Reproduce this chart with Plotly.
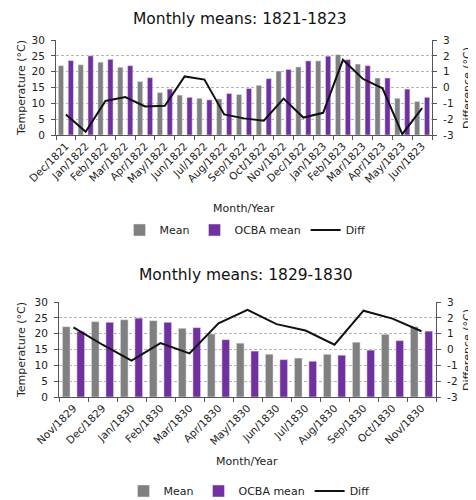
import plotly.graph_objects as go

c1_cats = ["Dec/1821", "Jan/1822", "Feb/1822", "Mar/1822", "Apr/1822", "May/1822", "Jun/1822",
           "Jul/1822", "Aug/1822", "Sep/1822", "Oct/1822", "Nov/1822", "Dec/1822", "Jan/1823",
           "Feb/1823", "Mar/1823", "Apr/1823", "May/1823", "Jun/1823"]
c1_mean = [21.9, 22.2, 23.0, 21.4, 16.9, 13.4, 12.6, 11.6, 11.4, 12.8, 15.7, 20.2, 21.5, 23.4,
           25.4, 22.4, 18.0, 11.6, 10.6]
c1_ocba = [23.5, 25.0, 23.9, 21.9, 18.1, 14.5, 11.9, 11.1, 13.1, 14.7, 17.8, 20.7, 23.4, 24.9,
           23.8, 21.9, 18.0, 14.5, 11.9]
c1_diff = [-1.7, -2.8, -0.85, -0.6, -1.2, -1.15, 0.7, 0.5, -1.7, -1.95, -2.1, -0.7, -1.9, -1.6,
           1.75, 0.55, -0.05, -2.95, -1.3]

c2_cats = ["Nov/1829", "Dec/1829", "Jan/1830", "Feb/1830", "Mar/1830", "Apr/1830", "May/1830",
           "Jun/1830", "Jul/1830", "Aug/1830", "Sep/1830", "Oct/1830", "Nov/1830"]
c2_mean = [22.2, 23.8, 24.4, 24.1, 21.7, 19.9, 17.0, 13.5, 12.3, 13.5, 17.3, 19.8, 22.2]
c2_ocba = [20.7, 23.6, 24.9, 23.6, 21.9, 18.1, 14.5, 11.8, 11.3, 13.2, 14.8, 17.8, 20.8]
c2_diff = [1.4, 0.3, -0.7, 0.4, -0.25, 1.65, 2.5, 1.6, 1.2, 0.3, 2.45, 1.95, 1.15]

titles = ["Monthly means: 1821-1823", "Monthly means: 1829-1830"]
left_ticks = [0, 5, 10, 15, 20, 25, 30]
right_ticks = [-3, -2, -1, 0, 1, 2, 3]
right_ticktext = ["-3", "-2", "-1", "0", "1", "2", "3"]

GRAY = "#808080"
PURPLE = "#7030a0"
FONT = "DejaVu Sans"
OFF = 8  # page body margin
W, H = 476 - OFF, 500 - OFF

fig = go.Figure()

fig.add_trace(go.Bar(x=c1_cats, y=c1_mean, name="Mean", marker_color=GRAY,
                     xaxis="x", yaxis="y", legend="legend", offsetgroup="a"))
fig.add_trace(go.Bar(x=c1_cats, y=c1_ocba, name="OCBA mean", marker_color=PURPLE,
                     xaxis="x", yaxis="y", legend="legend", offsetgroup="b"))
fig.add_trace(go.Scatter(x=c1_cats, y=c1_diff, name="Diff", mode="lines",
                         line=dict(color="#111111", width=2),
                         xaxis="x", yaxis="y2", legend="legend"))

fig.add_trace(go.Bar(x=c2_cats, y=c2_mean, name="Mean", marker_color=GRAY,
                     xaxis="x2", yaxis="y3", legend="legend2", offsetgroup="a"))
fig.add_trace(go.Bar(x=c2_cats, y=c2_ocba, name="OCBA mean", marker_color=PURPLE,
                     xaxis="x2", yaxis="y3", legend="legend2", offsetgroup="b"))
fig.add_trace(go.Scatter(x=c2_cats, y=c2_diff, name="Diff", mode="lines",
                         line=dict(color="#111111", width=2),
                         xaxis="x2", yaxis="y4", legend="legend2"))


def fx(px):
    return (px - OFF) / W


def fy(py):
    return 1 - (py - OFF) / H


def px_x(a, b):
    return [fx(a), fx(b)]


def px_y(top, bottom):
    return [fy(bottom), fy(top)]


axis_line = "#555555"
tickfont = dict(family=FONT, size=10.5, color="#222222")

xcommon = dict(type="category", showline=True, linecolor=axis_line, linewidth=1,
               ticks="outside", ticklen=4, tickcolor=axis_line, tickson="boundaries",
               tickangle=-45, tickfont=dict(family=FONT, size=10.5, color="#222222"),
               showgrid=False, automargin=False, zeroline=False)
ycommon_left = dict(range=[0, 30], tickvals=left_ticks, showline=True, linecolor=axis_line,
                    linewidth=1, ticks="outside", ticklen=4, tickcolor=axis_line,
                    tickfont=tickfont, showgrid=True, gridcolor="#b4b4b4", griddash="3px,2px",
                    gridwidth=1, zeroline=False, automargin=False, ticklabelstandoff=4)
ycommon_right = dict(range=[-3, 3], tickvals=right_ticks, ticktext=right_ticktext,
                     showline=True, linecolor=axis_line,
                     linewidth=1, ticks="outside", ticklen=4, tickcolor=axis_line,
                     tickfont=tickfont, showgrid=False, zeroline=False, automargin=False,
                     side="right", ticklabelstandoff=4)

legfont = dict(family=FONT, size=11, color="#222222")

fig.update_layout(
    width=W, height=H,
    margin=dict(l=0, r=0, t=0, b=0, autoexpand=False),
    paper_bgcolor="white", plot_bgcolor="white",
    font=dict(family=FONT, size=11, color="#222222"),
    barmode="group", bargap=0.0, bargroupgap=0.47,
    xaxis=dict(domain=px_x(56, 432), anchor="y", **xcommon),
    yaxis=dict(domain=px_y(40, 135), anchor="x", **ycommon_left),
    yaxis2=dict(overlaying="y", anchor="x", **ycommon_right),
    xaxis2=dict(domain=px_x(59, 436), anchor="y3", **xcommon),
    yaxis3=dict(domain=px_y(302, 397), anchor="x2", **ycommon_left),
    yaxis4=dict(overlaying="y3", anchor="x2", **ycommon_right),
    legend=dict(orientation="h", xref="container", yref="container",
                x=fx(245), xanchor="center", y=fy(230), yanchor="middle",
                font=legfont, bgcolor="rgba(0,0,0,0)", itemwidth=30, traceorder="normal"),
    legend2=dict(orientation="h", xref="container", yref="container",
                 x=fx(249), xanchor="center", y=fy(491), yanchor="middle",
                 font=legfont, bgcolor="rgba(0,0,0,0)", itemwidth=30, traceorder="normal"),
    showlegend=True,
)

ann = []
ann.append(dict(text=titles[0], x=fx(240), y=fy(8), xref="paper", yref="paper",
                xanchor="center", yanchor="top",
                showarrow=False, font=dict(family=FONT, size=15.5, color="#111111")))
ann.append(dict(text=titles[1], x=fx(246), y=fy(275), xref="paper", yref="paper",
                xanchor="center", yanchor="middle",
                showarrow=False, font=dict(family=FONT, size=15.5, color="#111111")))
for yc in [88, 350]:
    ann.append(dict(text="Temperature (°C)", x=fx(21), y=fy(yc), xref="paper", yref="paper",
                    xanchor="center", yanchor="middle",
                    showarrow=False, textangle=-90, font=dict(family=FONT, size=11, color="#222222")))
    ann.append(dict(text="Difference (°C)", x=fx(467), y=fy(yc), xref="paper", yref="paper",
                    xanchor="center", yanchor="middle",
                    showarrow=False, textangle=-90, font=dict(family=FONT, size=11, color="#222222")))
ann.append(dict(text="Month/Year", x=fx(244), y=fy(208), xref="paper", yref="paper",
                xanchor="center", yanchor="middle",
                showarrow=False, font=dict(family=FONT, size=11, color="#222222")))
ann.append(dict(text="Month/Year", x=fx(247), y=fy(461), xref="paper", yref="paper",
                xanchor="center", yanchor="middle",
                showarrow=False, font=dict(family=FONT, size=11, color="#222222")))
fig.update_layout(annotations=ann)

fig.write_html("out.html")
